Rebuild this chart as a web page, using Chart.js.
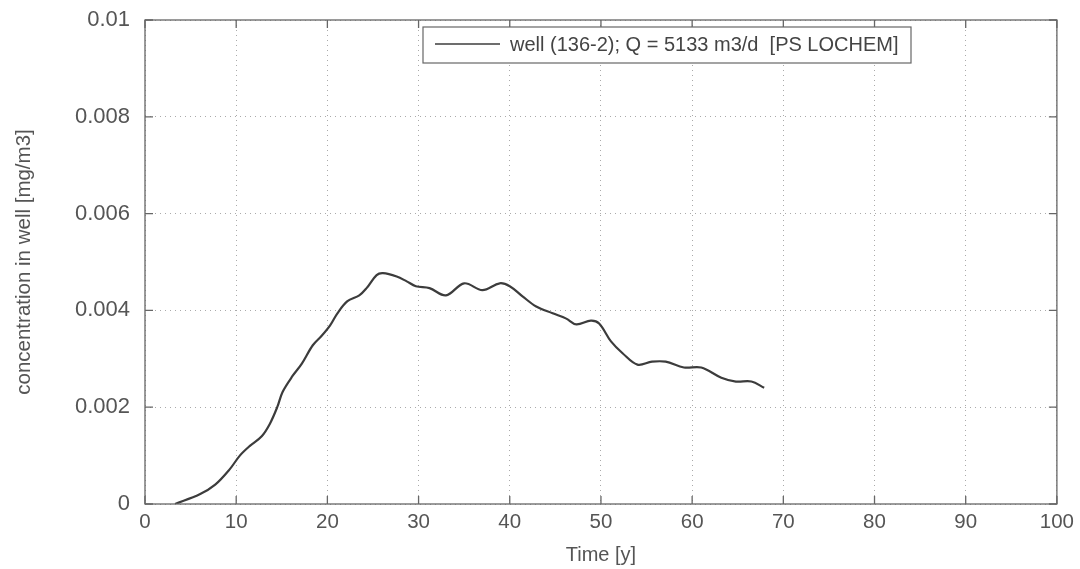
<!DOCTYPE html>
<html>
<head>
<meta charset="utf-8">
<script src="https://cdn.jsdelivr.net/npm/chart.js@4/dist/chart.umd.min.js"></script>
<style>
html,body{margin:0;padding:0;background:#fff;}
#wrap{width:1080px;height:569px;}
</style>
</head>
<body>
<div id="wrap"><canvas id="c" width="1080" height="569"></canvas></div>
<script>
const timeYears = [3.3, 6.0, 7.7, 9.3, 10.4, 11.5, 12.8, 13.7, 14.5, 15.1, 16.2, 17.2, 18.4, 19.4, 20.3, 21.1, 22.2, 23.5, 24.3, 25.4, 26.1, 27.6, 28.7, 29.7, 31.2, 33.0, 35.0, 37.0, 38.9, 40.0, 41.4, 42.9, 44.7, 46.2, 47.3, 48.9, 49.8, 51.1, 52.4, 54.0, 55.6, 57.1, 59.1, 61.0, 63.2, 64.8, 66.5, 67.9];
const concentration = [0, 0.0002, 0.0004, 0.00072, 0.001, 0.0012, 0.0014, 0.00166, 0.002, 0.00232, 0.00265, 0.0029, 0.00328, 0.00348, 0.00369, 0.00394, 0.00419, 0.00431, 0.00446, 0.00473, 0.00477, 0.0047, 0.0046, 0.0045, 0.00446, 0.00431, 0.00456, 0.00442, 0.00456, 0.0045, 0.00429, 0.00408, 0.00394, 0.00383, 0.00371, 0.00379, 0.00373, 0.00336, 0.00311, 0.00288, 0.00294, 0.00294, 0.00282, 0.00282, 0.00261, 0.00253, 0.00253, 0.0024];
const xTicks = [0, 10, 20, 30, 40, 50, 60, 70, 80, 90, 100];
const yTicks = [0, 0.002, 0.004, 0.006, 0.008, 0.01];
const yTickLabels = ['0', '0.002', '0.004', '0.006', '0.008', '0.01'];
const seriesLabel = 'well (136-2); Q = 5133 m3/d  [PS LOCHEM]';
const xTitle = 'Time [y]';
const yTitle = 'concentration in well [mg/m3]';

const FONT = "'Liberation Sans', Arial, sans-serif";
const TXT = '#555';

const points = timeYears.map((t, i) => ({x: t, y: concentration[i]}));

const framePlugin = {
  id: 'frame',
  afterDatasetsDraw(chart) {
    const ctx = chart.ctx, a = chart.chartArea;
    const xs = chart.scales.x, ys = chart.scales.y;
    ctx.save();
    ctx.strokeStyle = '#666';
    ctx.lineWidth = 1.3;
    ctx.strokeRect(a.left, a.top, a.right - a.left, a.bottom - a.top);
    ctx.beginPath();
    const tl = 8;
    xTicks.forEach(v => {
      const px = xs.getPixelForValue(v);
      ctx.moveTo(px, a.bottom); ctx.lineTo(px, a.bottom - tl);
      ctx.moveTo(px, a.top); ctx.lineTo(px, a.top + tl);
    });
    yTicks.forEach(v => {
      const py = ys.getPixelForValue(v);
      ctx.moveTo(a.left, py); ctx.lineTo(a.left + tl, py);
      ctx.moveTo(a.right, py); ctx.lineTo(a.right - tl, py);
    });
    ctx.stroke();
    // legend box
    const ds = chart.data.datasets[0];
    const bx = 423, by = 27, bw = 488, bh = 36;
    ctx.fillStyle = '#fff';
    ctx.fillRect(bx, by, bw, bh);
    ctx.strokeStyle = '#666';
    ctx.lineWidth = 1.2;
    ctx.strokeRect(bx, by, bw, bh);
    ctx.beginPath();
    ctx.strokeStyle = ds.borderColor;
    ctx.lineWidth = 1.5;
    ctx.moveTo(435, 44); ctx.lineTo(500, 44);
    ctx.stroke();
    ctx.fillStyle = '#444';
    ctx.font = '20px ' + FONT;
    ctx.textBaseline = 'middle';
    ctx.textAlign = 'left';
    ctx.fillText(ds.label, 510, 45);
    ctx.restore();
  }
};

new Chart(document.getElementById('c'), {
  type: 'line',
  data: {
    datasets: [{
      label: seriesLabel,
      data: points,
      borderColor: '#3c3c3c',
      borderWidth: 2.2,
      pointRadius: 0,
      fill: false,
      tension: 0.35
    }]
  },
  options: {
    responsive: false,
    animation: false,
    events: [],
    layout: {padding: {left: 0, right: 22, top: 20, bottom: 0}},
    plugins: {legend: {display: false}, tooltip: {enabled: false}},
    scales: {
      x: {
        type: 'linear',
        min: 0, max: 100,
        afterBuildTicks: s => { s.ticks = xTicks.map(v => ({value: v})); },
        afterFit: s => { s.height = 65; },
        ticks: {color: TXT, font: {family: FONT, size: 20.5}, padding: 6, maxRotation: 0, callback: v => String(v)},
        grid: {color: '#aaa', lineWidth: 1, drawTicks: false},
        border: {display: false, dash: [1, 4]},
        title: {display: true, text: xTitle, color: TXT, font: {family: FONT, size: 20}, padding: {top: 0, bottom: 2}}
      },
      y: {
        type: 'linear',
        min: 0, max: 0.01,
        afterBuildTicks: s => { s.ticks = yTicks.map(v => ({value: v})); },
        afterFit: s => { s.width = 145; s.paddingTop = 0; s.paddingBottom = 0; },
        ticks: {color: TXT, font: {family: FONT, size: 22, lineHeight: 0.5}, padding: 15, callback: (v) => yTickLabels[yTicks.indexOf(v)] ?? ''},
        grid: {color: '#aaa', lineWidth: 1, drawTicks: false},
        border: {display: false, dash: [1, 4]},
        title: {display: true, text: yTitle, color: TXT, font: {family: FONT, size: 20.5}, padding: {top: 12, bottom: 0}}
      }
    }
  },
  plugins: [framePlugin]
});
</script>
</body>
</html>
